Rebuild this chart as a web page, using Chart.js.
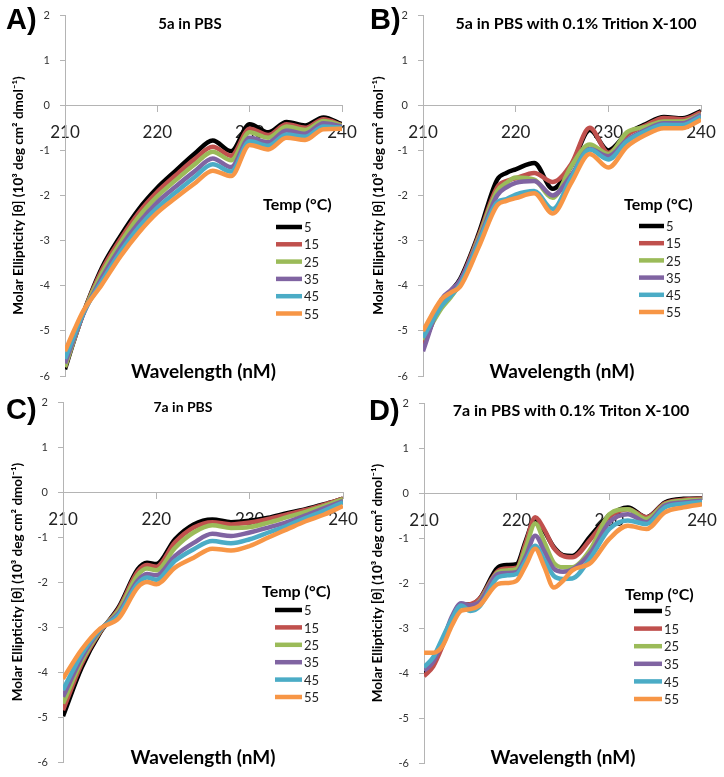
<!DOCTYPE html>
<html>
<head>
<meta charset="utf-8">
<script src="https://cdn.jsdelivr.net/npm/chart.js@4.4.1/dist/chart.umd.min.js"></script>
<style>
  body { margin: 0; background: #fff; width: 724px; height: 777px; position: relative; overflow: hidden; }
  .panel { position: absolute; }
</style>
</head>
<body>
<div class="panel" style="left:0;top:0;width:362px;height:390px"><canvas id="chartA"></canvas></div>
<div class="panel" style="left:362px;top:0;width:362px;height:390px"><canvas id="chartB"></canvas></div>
<div class="panel" style="left:0;top:390px;width:362px;height:387px"><canvas id="chartC"></canvas></div>
<div class="panel" style="left:362px;top:390px;width:362px;height:387px"><canvas id="chartD"></canvas></div>
<script>
// temperatures (legend) and axis ticks
const temps = ["5", "15", "25", "35", "45", "55"];
const xTicks = [210, 220, 230, 240];
const yTicks = [2, 1, 0, -1, -2, -3, -4, -5, -6];

// A) 5a in PBS
const wavesA = [210, 211, 212, 214, 216, 218, 220, 222, 224, 226, 228, 230, 232, 234, 236, 238, 240];
const ellipA = [
  [-5.85, -5.2, -4.6, -3.6, -2.9, -2.3, -1.83, -1.45, -1.08, -0.78, -1.02, -0.42, -0.6, -0.37, -0.45, -0.27, -0.42],
  [-5.8, -5.18, -4.6, -3.65, -2.97, -2.38, -1.92, -1.55, -1.2, -0.92, -1.12, -0.52, -0.66, -0.42, -0.5, -0.31, -0.44],
  [-5.8, -5.18, -4.6, -3.72, -3.05, -2.47, -2.02, -1.66, -1.32, -1.03, -1.22, -0.6, -0.72, -0.47, -0.55, -0.35, -0.45],
  [-5.72, -5.15, -4.62, -3.82, -3.15, -2.6, -2.15, -1.8, -1.47, -1.18, -1.37, -0.72, -0.82, -0.56, -0.63, -0.4, -0.47],
  [-5.62, -5.1, -4.6, -3.9, -3.25, -2.7, -2.27, -1.93, -1.6, -1.31, -1.47, -0.8, -0.9, -0.65, -0.7, -0.47, -0.5],
  [-5.45, -4.98, -4.55, -3.97, -3.35, -2.82, -2.38, -2.05, -1.74, -1.45, -1.57, -0.88, -0.98, -0.72, -0.77, -0.53, -0.52]
];

// B) 5a in PBS with 0.1% Triton X-100
const wavesB = [210, 212, 213, 214, 216, 218, 219, 220, 222, 224, 226, 228, 230, 232, 234, 236, 238, 240];
const ellipB = [
  [-5.35, -4.35, -4.12, -3.85, -2.85, -1.65, -1.5, -1.42, -1.28, -1.85, -1.35, -0.55, -1.0, -0.63, -0.42, -0.26, -0.29, -0.13],
  [-5.3, -4.4, -4.18, -3.9, -2.9, -1.82, -1.68, -1.62, -1.5, -1.7, -1.3, -0.5, -1.05, -0.66, -0.45, -0.28, -0.31, -0.16],
  [-5.2, -4.5, -4.25, -3.95, -2.95, -1.9, -1.72, -1.6, -1.65, -2.05, -1.35, -0.87, -1.08, -0.6, -0.48, -0.36, -0.36, -0.2],
  [-5.45, -4.3, -4.1, -3.88, -3.0, -2.0, -1.82, -1.72, -1.68, -2.0, -1.55, -0.97, -1.13, -0.77, -0.55, -0.4, -0.4, -0.21],
  [-5.15, -4.45, -4.22, -3.97, -3.05, -2.15, -2.08, -1.98, -1.9, -2.3, -1.6, -0.98, -1.2, -0.8, -0.58, -0.43, -0.44, -0.25],
  [-5.0, -4.3, -4.15, -4.02, -3.15, -2.22, -2.12, -2.06, -1.95, -2.4, -1.72, -1.08, -1.38, -0.92, -0.66, -0.51, -0.51, -0.32]
];

// C) 7a in PBS
const wavesC = [210, 212, 214, 216, 218, 219, 220, 222, 224, 226, 228, 230, 232, 234, 236, 238, 240];
const ellipC = [
  [-4.98, -3.9, -3.12, -2.55, -1.72, -1.57, -1.6, -1.05, -0.72, -0.61, -0.67, -0.64, -0.57, -0.47, -0.38, -0.27, -0.15],
  [-4.85, -3.82, -3.1, -2.58, -1.77, -1.62, -1.66, -1.12, -0.79, -0.67, -0.72, -0.68, -0.6, -0.5, -0.4, -0.28, -0.15],
  [-4.7, -3.75, -3.08, -2.62, -1.85, -1.7, -1.74, -1.24, -0.9, -0.74, -0.8, -0.78, -0.68, -0.56, -0.44, -0.31, -0.16],
  [-4.55, -3.68, -3.06, -2.68, -1.97, -1.82, -1.85, -1.42, -1.13, -0.93, -0.98, -0.9, -0.79, -0.67, -0.52, -0.36, -0.2],
  [-4.4, -3.6, -3.05, -2.72, -2.04, -1.9, -1.95, -1.53, -1.27, -1.09, -1.14, -1.05, -0.9, -0.75, -0.58, -0.41, -0.23],
  [-4.15, -3.5, -3.03, -2.8, -2.12, -2.0, -2.05, -1.68, -1.46, -1.26, -1.3, -1.2, -1.01, -0.83, -0.65, -0.5, -0.31]
];

// D) 7a in PBS with 0.1% Triton X-100
const wavesD = [210, 211, 212, 213, 214, 215, 216, 218, 219, 220, 221, 222, 223, 224, 225, 226, 228, 230, 232, 234, 236, 238, 240];
const ellipD = [
  [-4.02, -3.8, -3.35, -2.8, -2.47, -2.48, -2.35, -1.65, -1.6, -1.58, -1.05, -0.58, -0.85, -1.2, -1.38, -1.4, -0.95, -0.5, -0.32, -0.54, -0.21, -0.13, -0.12],
  [-4.07, -3.85, -3.4, -2.85, -2.5, -2.47, -2.35, -1.73, -1.68, -1.66, -1.1, -0.54, -0.82, -1.22, -1.4, -1.43, -1.02, -0.53, -0.36, -0.54, -0.23, -0.15, -0.13],
  [-3.9, -3.7, -3.28, -2.8, -2.52, -2.52, -2.4, -1.76, -1.72, -1.69, -1.2, -0.68, -1.1, -1.55, -1.65, -1.65, -1.24, -0.47, -0.36, -0.58, -0.25, -0.17, -0.15],
  [-3.95, -3.75, -3.3, -2.75, -2.45, -2.5, -2.42, -1.8, -1.78, -1.76, -1.4, -0.95, -1.3, -1.68, -1.75, -1.7, -1.32, -0.65, -0.47, -0.65, -0.28, -0.21, -0.17],
  [-3.87, -3.65, -3.22, -2.8, -2.5, -2.62, -2.52, -1.87, -1.83, -1.8, -1.5, -1.17, -1.5, -1.84, -1.91, -1.9, -1.43, -0.8, -0.61, -0.69, -0.32, -0.24, -0.2],
  [-3.55, -3.55, -3.4, -2.95, -2.62, -2.58, -2.5, -2.02, -2.0, -1.95, -1.6, -1.24, -1.65, -2.1, -1.95, -1.72, -1.55, -1.02, -0.73, -0.8, -0.43, -0.32, -0.25]
];

const colors = ["#000000", "#c0504d", "#9bbb59", "#8064a2", "#4bacc6", "#f79646"];
const axisGray = "#b4b4b4";
const yTitle = "Molar Ellipticity [\u03b8] (10\u00b3 deg cm\u00b2 dmol\u207b\u00b9)";

// letter, title, x title and the temperature legend
const decor = {
  id: "decor",
  afterDraw(chart, args, o) {
    const ctx = chart.ctx;
    const a = chart.chartArea;
    ctx.save();
    ctx.fillStyle = "#000";
    ctx.textBaseline = "middle";

    ctx.font = "bold 29px 'Liberation Sans'";
    ctx.textAlign = "left";
    ctx.fillText(o.letter, o.letterX, o.letterY);

    ctx.font = "bold " + o.titleSize + "px Lato";
    ctx.textAlign = "center";
    ctx.fillText(o.title, o.titleX, o.titleY);

    ctx.font = "bold 19px Lato";
    ctx.fillText("Wavelength (nM)", (a.left + a.right) / 2, o.xTitleY);

    ctx.textAlign = "left";
    ctx.font = "bold 16px Lato";
    ctx.fillText("Temp (\u00b0C)", o.legX, o.legY);
    ctx.font = "13px Lato";
    ctx.fillStyle = "#222";
    chart.data.datasets.forEach((ds, i) => {
      const y = o.rowY + i * o.rowH;
      ctx.strokeStyle = ds.borderColor;
      ctx.lineWidth = 4.5;
      ctx.beginPath();
      ctx.moveTo(o.lineX0, y);
      ctx.lineTo(o.lineX1, y);
      ctx.stroke();
      ctx.fillText(ds.label, o.lineX1 + 2, y + 1);
    });
    ctx.restore();
  }
};

function makePanel(id, waves, series, geo, deco) {
  return new Chart(document.getElementById(id), {
    type: "line",
    data: {
      datasets: series.map((vals, i) => ({
        label: temps[i],
        data: vals.map((v, j) => ({ x: waves[j], y: v })),
        borderColor: colors[i],
        borderWidth: 4.5,
        pointRadius: 0,
        fill: false,
        cubicInterpolationMode: "monotone",
        order: series.length - i
      }))
    },
    options: {
      responsive: true,
      maintainAspectRatio: false,
      animation: false,
      layout: { padding: { left: 0, top: geo.top, right: geo.right, bottom: geo.bottom } },
      plugins: {
        legend: { display: false },
        tooltip: { enabled: false },
        decor: deco
      },
      scales: {
        x: {
          type: "linear",
          min: 210,
          max: 240,
          position: { y: 0 },
          afterBuildTicks: s => { s.ticks = xTicks.map(v => ({ value: v })); },
          afterFit: s => { s.paddingLeft = 0; s.paddingRight = 0; },
          grid: { drawOnChartArea: false, tickLength: 6, color: axisGray },
          border: { color: axisGray },
          ticks: { font: { family: "Lato", size: 17 }, color: "#222", padding: 11, maxRotation: 0 }
        },
        y: {
          type: "linear",
          min: -6,
          max: 2,
          afterBuildTicks: s => { s.ticks = yTicks.map(v => ({ value: v })); },
          afterFit: s => { s.width = geo.left; s.paddingTop = 0; s.paddingBottom = 0; },
          grid: { drawOnChartArea: false, tickLength: 5, color: axisGray },
          border: { color: axisGray },
          ticks: { font: { family: "Lato", size: 11 }, color: "#333", padding: 10 },
          title: {
            display: true,
            text: yTitle,
            color: "#000",
            font: { family: "Lato", size: 13.5, weight: "bold" },
            padding: { top: geo.yTitlePad, bottom: 0 }
          }
        }
      }
    },
    plugins: [decor]
  });
}

makePanel("chartA", wavesA, ellipA,
  { left: 65, top: 15, right: 20, bottom: 14, yTitlePad: 11 },
  { letter: "A)", letterX: 6, letterY: 21, title: "5a in PBS", titleSize: 15, titleX: 190, titleY: 24,
    xTitleY: 372, legX: 263, legY: 205, lineX0: 276, lineX1: 302, rowY: 227, rowH: 17.3 });

makePanel("chartB", wavesB, ellipB,
  { left: 61, top: 15, right: 23, bottom: 14, yTitlePad: 9 },
  { letter: "B)", letterX: 8, letterY: 21, title: "5a in PBS with 0.1% Trition X-100", titleSize: 16, titleX: 214, titleY: 24,
    xTitleY: 372, legX: 262, legY: 205, lineX0: 277, lineX1: 302, rowY: 226, rowH: 17.2 });

makePanel("chartC", wavesC, ellipC,
  { left: 63, top: 12, right: 19, bottom: 15, yTitlePad: 10 },
  { letter: "C)", letterX: 6, letterY: 21, title: "7a in PBS", titleSize: 14, titleX: 183, titleY: 17,
    xTitleY: 368, legX: 262, legY: 202, lineX0: 275, lineX1: 302, rowY: 220, rowH: 17.4 });

makePanel("chartD", wavesD, ellipD,
  { left: 62, top: 13, right: 22, bottom: 14, yTitlePad: 8 },
  { letter: "D)", letterX: 7, letterY: 22, title: "7a in PBS with 0.1% Triton X-100", titleSize: 16, titleX: 209, titleY: 21,
    xTitleY: 368, legX: 263, legY: 205, lineX0: 272, lineX1: 300, rowY: 221, rowH: 17.6 });
</script>
</body>
</html>
